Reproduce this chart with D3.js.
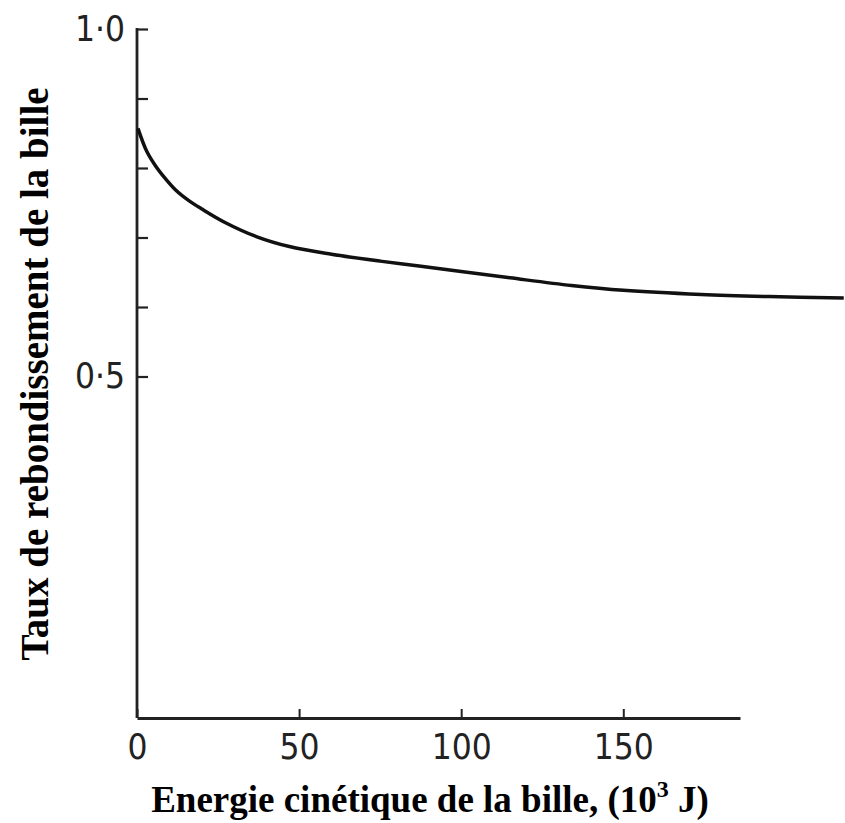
<!DOCTYPE html>
<html>
<head>
<meta charset="utf-8">
<script src="https://cdn.jsdelivr.net/npm/d3@7"></script>
<style>
  html, body { margin: 0; padding: 0; background: #fff; }
  svg { display: block; }
</style>
</head>
<body>
<svg id="chart" width="845" height="823"></svg>
<script>
// Data
const energy = [0.3, 3, 6, 8, 12, 16, 20, 27, 37, 47, 60, 75, 87, 100, 115, 134, 150, 174, 195, 218];
const rebound = [0.857, 0.824, 0.801, 0.789, 0.768, 0.753, 0.741, 0.722, 0.701, 0.687, 0.676, 0.666, 0.659, 0.651, 0.642, 0.631, 0.624, 0.618, 0.615, 0.613];
const xTicks = [0, 50, 100, 150];
const xTickLabels = ["0", "50", "100", "150"];
const yTicks = [0.5, 0.6, 0.7, 0.8, 0.9, 1.0];
const yTickLabels = {"0.5": "0·5", "1": "1·0"};
const xTitle = "Energie cinétique de la bille, (10";
const xTitleSup = "3";
const xTitleEnd = " J)";
const yTitle = "Taux de rebondissement de la bille";

const svg = d3.select("#chart");
const x = d3.scaleLinear().domain([0, 186]).range([137, 740]);
const y = d3.scaleLinear().domain([0, 1]).range([724, 29]);
const baseY = 718;
const tickFont = "'DejaVu Sans Condensed', 'DejaVu Sans', sans-serif";
const titleFont = "'Liberation Serif', 'Times New Roman', serif";

// Y axis
const yAxis = d3.axisLeft(y).tickValues(yTicks).tickSizeInner(-11).tickSizeOuter(0).tickPadding(12)
  .tickFormat(d => yTickLabels[String(d)] || "");
const gy = svg.append("g").attr("transform", `translate(${x(0)},0)`).call(yAxis);
gy.select(".domain").remove();
gy.selectAll(".tick line").attr("stroke", "#222").attr("stroke-width", 2.2);
gy.selectAll(".tick text").style("font-family", tickFont).style("font-size", "35px").attr("fill", "#222");
svg.append("line").attr("x1", x(0)).attr("x2", x(0)).attr("y1", y(1) - 1).attr("y2", baseY)
  .attr("stroke", "#222").attr("stroke-width", 2.8);

// X axis
const xAxis = d3.axisBottom(x).tickValues(xTicks).tickSizeInner(-9).tickSizeOuter(0).tickPadding(16)
  .tickFormat((d, i) => xTickLabels[i]);
const gx = svg.append("g").attr("transform", `translate(0,${baseY})`).call(xAxis);
gx.select(".domain").attr("stroke", "#222").attr("stroke-width", 2.8);
gx.selectAll(".tick line").attr("stroke", "#222").attr("stroke-width", 2);
gx.selectAll(".tick text").style("font-family", tickFont).style("font-size", "35px").attr("fill", "#222");

// Curve
const line = d3.line().x((d, i) => x(energy[i])).y(d => y(d)).curve(d3.curveCatmullRom.alpha(0.5));
svg.append("path").datum(rebound).attr("d", line)
  .attr("fill", "none").attr("stroke", "#111").attr("stroke-width", 3.5);

// X title
const xt = svg.append("text").attr("x", 430).attr("y", 812).attr("text-anchor", "middle")
  .attr("font-family", titleFont).attr("font-weight", "bold")
  .attr("font-size", 37).attr("fill", "#000");
xt.append("tspan").text(xTitle);
xt.append("tspan").attr("dy", -15).attr("font-size", 24).text(xTitleSup);
xt.append("tspan").attr("dy", 15).text(xTitleEnd);

// Y title
svg.append("text").attr("transform", "translate(48,374) rotate(-90)").attr("text-anchor", "middle")
  .attr("font-family", titleFont).attr("font-weight", "bold")
  .attr("font-size", 39).attr("fill", "#000").text(yTitle);
</script>
</body>
</html>
